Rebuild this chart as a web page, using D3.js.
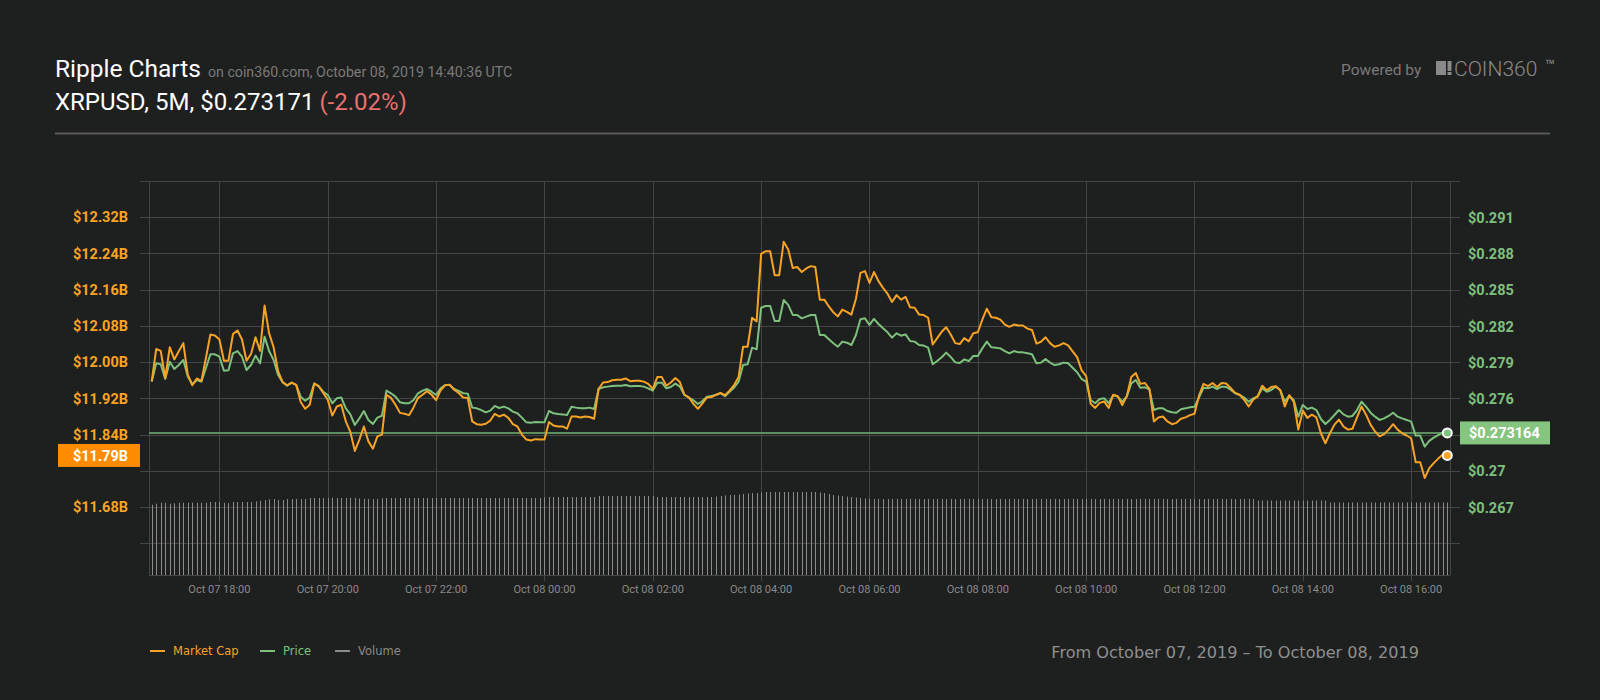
<!DOCTYPE html>
<html><head><meta charset="utf-8">
<script src="https://cdn.jsdelivr.net/npm/d3@7"></script>
<style>
html,body{margin:0;padding:0;background:#1e1f1f;}
svg{display:block;}
</style></head><body>
<svg id="chart" width="1600" height="700"></svg>
<script>
// ---------- DATA ----------
const startTime = "2019-10-07T16:45:00Z";   // first 5-minute bar (chart local time)
const stepMinutes = 5;

// Market cap, billions USD
const marketCap = [
11.958,12.029,12.025,11.965,12.033,12.006,12.024,12.042,11.972,11.949,
11.964,11.958,12.009,12.061,12.059,12.050,12.003,12.003,12.062,12.070,
12.050,12.003,12.018,12.055,12.025,12.125,12.064,12.033,11.980,11.956,
11.949,11.955,11.950,11.912,11.897,11.906,11.953,11.947,11.932,11.917,
11.882,11.902,11.906,11.869,11.846,11.804,11.829,11.858,11.825,11.809,
11.836,11.840,11.928,11.921,11.906,11.888,11.886,11.883,11.900,11.921,
11.928,11.936,11.928,11.916,11.938,11.949,11.950,11.939,11.932,11.922,
11.921,11.869,11.863,11.862,11.864,11.871,11.886,11.880,11.884,11.877,
11.863,11.858,11.840,11.829,11.827,11.830,11.829,11.829,11.868,11.860,
11.858,11.858,11.853,11.880,11.880,11.878,11.880,11.879,11.875,11.941,
11.955,11.956,11.960,11.961,11.961,11.964,11.958,11.959,11.959,11.957,
11.952,11.941,11.967,11.967,11.948,11.955,11.965,11.956,11.928,11.922,
11.908,11.897,11.909,11.922,11.923,11.928,11.932,11.927,11.937,11.949,
11.967,12.034,12.034,12.098,12.090,12.239,12.245,12.245,12.192,12.192,
12.266,12.249,12.208,12.210,12.199,12.207,12.212,12.210,12.138,12.138,
12.123,12.110,12.101,12.116,12.111,12.105,12.140,12.197,12.201,12.175,
12.199,12.179,12.164,12.151,12.133,12.148,12.138,12.144,12.121,12.120,
12.105,12.104,12.098,12.039,12.053,12.067,12.077,12.061,12.042,12.040,
12.053,12.046,12.064,12.066,12.094,12.118,12.099,12.098,12.094,12.083,
12.078,12.083,12.081,12.081,12.074,12.071,12.041,12.045,12.055,12.042,
12.034,12.037,12.042,12.037,12.024,12.011,11.982,11.969,11.908,11.899,
11.910,11.913,11.899,11.928,11.925,11.905,11.925,11.967,11.976,11.952,
11.954,11.941,11.869,11.878,11.880,11.869,11.863,11.866,11.875,11.878,
11.883,11.886,11.926,11.952,11.947,11.954,11.945,11.954,11.953,11.943,
11.932,11.928,11.917,11.902,11.917,11.925,11.948,11.938,11.945,11.947,
11.938,11.902,11.927,11.912,11.851,11.893,11.877,11.884,11.878,11.843,
11.821,11.843,11.862,11.873,11.858,11.851,11.853,11.878,11.902,11.884,
11.862,11.847,11.836,11.841,11.851,11.863,11.851,11.843,11.838,11.832,
11.779,11.779,11.744,11.766,11.777,11.787,11.796,11.794];

// Price, USD
const price = [
0.27741,0.27893,0.27885,0.27763,0.27907,0.27846,0.27879,0.27921,0.27783,0.27719,
0.27755,0.27741,0.27852,0.27968,0.27968,0.27948,0.27832,0.27835,0.27976,0.27995,
0.27948,0.27838,0.27879,0.27957,0.27893,0.28114,0.27995,0.27921,0.27796,0.27736,
0.27708,0.27733,0.27714,0.27617,0.27584,0.27609,0.27725,0.27703,0.27658,0.27631,
0.27562,0.27603,0.27609,0.27520,0.27470,0.27382,0.27437,0.27498,0.27424,0.27390,
0.27443,0.27459,0.27667,0.27645,0.27617,0.27570,0.27562,0.27562,0.27589,0.27645,
0.27667,0.27680,0.27658,0.27631,0.27686,0.27714,0.27714,0.27680,0.27664,0.27645,
0.27642,0.27526,0.27520,0.27506,0.27487,0.27501,0.27540,0.27523,0.27534,0.27520,
0.27493,0.27479,0.27443,0.27404,0.27401,0.27407,0.27404,0.27404,0.27498,0.27479,
0.27473,0.27470,0.27465,0.27534,0.27526,0.27520,0.27520,0.27526,0.27515,0.27680,
0.27694,0.27700,0.27705,0.27708,0.27708,0.27714,0.27703,0.27705,0.27705,0.27700,
0.27686,0.27667,0.27733,0.27733,0.27686,0.27697,0.27725,0.27700,0.27631,0.27609,
0.27587,0.27556,0.27581,0.27617,0.27622,0.27631,0.27645,0.27620,0.27658,0.27691,
0.27741,0.27879,0.27885,0.28023,0.28009,0.28354,0.28368,0.28368,0.28244,0.28244,
0.28418,0.28377,0.28294,0.28294,0.28266,0.28280,0.28294,0.28294,0.28128,0.28128,
0.28092,0.28059,0.28031,0.28073,0.28064,0.28045,0.28128,0.28258,0.28266,0.28211,
0.28261,0.28219,0.28183,0.28150,0.28106,0.28142,0.28122,0.28133,0.28078,0.28073,
0.28045,0.28040,0.28023,0.27885,0.27912,0.27943,0.27982,0.27946,0.27901,0.27896,
0.27926,0.27912,0.27954,0.27954,0.28017,0.28073,0.28026,0.28023,0.28017,0.27995,
0.27976,0.27995,0.27984,0.27984,0.27976,0.27968,0.27893,0.27899,0.27929,0.27899,
0.27879,0.27885,0.27899,0.27893,0.27857,0.27819,0.27763,0.27741,0.27589,0.27562,
0.27598,0.27603,0.27562,0.27631,0.27617,0.27575,0.27617,0.27727,0.27755,0.27691,
0.27694,0.27678,0.27506,0.27520,0.27520,0.27498,0.27487,0.27484,0.27512,0.27520,
0.27529,0.27534,0.27609,0.27691,0.27686,0.27700,0.27680,0.27700,0.27697,0.27675,
0.27645,0.27631,0.27609,0.27575,0.27603,0.27617,0.27686,0.27658,0.27672,0.27700,
0.27672,0.27575,0.27625,0.27587,0.27451,0.27548,0.27515,0.27526,0.27506,0.27432,
0.27390,0.27424,0.27465,0.27506,0.27470,0.27451,0.27457,0.27506,0.27575,0.27534,
0.27484,0.27451,0.27424,0.27437,0.27457,0.27484,0.27451,0.27437,0.27424,0.27410,
0.27294,0.27294,0.27203,0.27250,0.27277,0.27299,0.27321,0.273164];

// Volume (relative units, no axis shown)
const volume = [
703,713,723,723,713,717,723,723,723,723,
723,723,723,730,730,730,723,720,730,730,
730,730,730,737,743,750,757,760,750,750,
760,760,760,760,760,770,770,770,770,770,
773,770,770,770,772,770,765,762,760,760,
760,767,770,770,770,770,770,770,770,770,
770,770,770,770,770,770,770,770,770,770,
770,770,770,770,770,770,770,770,770,770,
770,770,770,770,770,770,770,777,780,780,
780,780,780,780,780,780,780,780,780,790,
790,790,790,790,790,790,790,790,790,790,
790,790,780,780,780,780,780,780,780,780,
780,780,780,780,780,785,790,795,800,800,
805,810,815,820,820,825,830,830,830,830,
830,830,830,830,830,830,830,830,825,820,
810,800,795,790,785,780,775,770,765,760,
760,760,760,760,760,760,760,760,760,760,
760,760,760,760,760,760,760,760,760,760,
760,760,760,760,760,760,760,760,760,760,
760,760,760,760,760,760,760,760,760,760,
760,760,760,760,760,760,760,760,760,760,
760,760,760,760,760,760,760,760,760,760,
760,760,760,760,760,760,760,760,760,760,
760,760,760,760,760,760,760,760,760,760,
760,760,760,760,760,745,745,745,745,745,
745,745,745,745,745,745,745,745,745,745,
745,725,725,725,725,725,725,725,725,725,
725,725,725,725,725,725,725,725,725,725,
725,725,725,725,725,725,725,725];

const capGrid   = [11.60,11.68,11.76,11.84,11.92,12.00,12.08,12.16,12.24,12.32,12.40];
const capTicks  = [11.68,11.76,11.84,11.92,12.00,12.08,12.16,12.24,12.32];
const priceTicks= [0.267,0.270,0.273,0.276,0.279,0.282,0.285,0.288,0.291];
const timeTicks = ["2019-10-07T18:00:00Z","2019-10-07T20:00:00Z","2019-10-07T22:00:00Z",
  "2019-10-08T00:00:00Z","2019-10-08T02:00:00Z","2019-10-08T04:00:00Z","2019-10-08T06:00:00Z",
  "2019-10-08T08:00:00Z","2019-10-08T10:00:00Z","2019-10-08T12:00:00Z","2019-10-08T14:00:00Z",
  "2019-10-08T16:00:00Z"];
const lastPrice = 0.273164;
const lastCapLabel = "$11.79B";
const headerTitle = "Ripple Charts";
const headerSub = "on coin360.com, October 08, 2019 14:40:36 UTC";
const headerPair = "XRPUSD, 5M, $0.273171";
const headerChange = "(-2.02%)";
const rangeText = "From October 07, 2019 \u2013 To October 08, 2019";
const legendItems = ["Market Cap","Price","Volume"];

// ---------- STYLE ----------
const C = {bg:"#1e1f1f", grid:"#454545", cap:"#f7a325", price:"#7dc17d", vol:"#8b8b8b",
  capBox:"#ff8c00", priceBox:"#86c580", nowLine:"#5e8f5e", axisText:"#8a8a8a"};
const P = {left:149, right:1450, top:181, bottom:575};

const svg = d3.select("#chart");
svg.append("rect").attr("width",1600).attr("height",700).attr("fill",C.bg);

const t0 = new Date(startTime).getTime();
const times = marketCap.map((d,i)=> new Date(t0 + i*stepMinutes*60000));

const x = d3.scaleUtc()
  .domain([new Date("2019-10-07T16:42:00Z"), new Date("2019-10-08T16:43:00Z")])
  .range([P.left, P.right]);
const yCap = d3.scaleLinear().domain([11.53, 12.40]).range([P.bottom, P.top]);
const yPrice = d3.scaleLinear().domain([0.26139, 0.29404]).range([P.bottom, P.top]);
const yVol = d3.scaleLinear().domain([0, 1000]).range([P.bottom, P.bottom - 100]);

// ---------- HEADER ----------
const hdr = svg.append("g");
const tTitle = hdr.append("text").attr("x",55).attr("y",77)
  .attr("font-family","Roboto").attr("font-size",24.5).attr("fill","#ffffff").text(headerTitle);
const tw = tTitle.node().getComputedTextLength();
hdr.append("text").attr("x",55+tw+7).attr("y",77)
  .attr("font-family","Roboto").attr("font-size",14.2).attr("fill","#7a7a7a").text(headerSub);
const tPair = hdr.append("text").attr("x",55).attr("y",110)
  .attr("font-family","Roboto").attr("font-size",24).attr("fill","#ffffff").text(headerPair);
const pw = tPair.node().getComputedTextLength();
hdr.append("text").attr("x",55+pw+5).attr("y",110)
  .attr("font-family","Roboto").attr("font-size",24).attr("fill","#e8716f").text(headerChange);
hdr.append("line").attr("x1",55).attr("x2",1550).attr("y1",133.5).attr("y2",133.5)
  .attr("stroke","#595959").attr("stroke-width",2);

hdr.append("text").attr("x",1341).attr("y",75)
  .attr("font-family","Roboto").attr("font-size",15.5).attr("fill","#7a7a7a").text("Powered by");
hdr.append("rect").attr("x",1436).attr("y",61).attr("width",10).attr("height",14).attr("fill","#8a8a8a");
hdr.append("rect").attr("x",1447.5).attr("y",61).attr("width",4).attr("height",10).attr("fill","#8a8a8a");
hdr.append("rect").attr("x",1447.5).attr("y",72).attr("width",4).attr("height",3).attr("fill","#8a8a8a");
hdr.append("text").attr("x",1454).attr("y",75.5)
  .attr("font-family","Roboto").attr("font-weight",300).attr("font-size",21).attr("fill","#8a8a8a").text("COIN360");
hdr.append("text").attr("x",1545).attr("y",71)
  .attr("font-family","Roboto").attr("font-size",16).attr("fill","#8a8a8a").text("\u2122");

// ---------- GRID ----------
const g = svg.append("g");
g.selectAll("line.hg").data(capGrid).join("line")
  .attr("x1",140).attr("x2",1460)
  .attr("y1",d=>Math.round(yCap(d))+0.5).attr("y2",d=>Math.round(yCap(d))+0.5)
  .attr("stroke",C.grid).attr("stroke-width",1);
g.selectAll("line.vg").data(timeTicks).join("line")
  .attr("x1",d=>Math.round(x(new Date(d)))+0.5).attr("x2",d=>Math.round(x(new Date(d)))+0.5)
  .attr("y1",P.top).attr("y2",P.bottom+6)
  .attr("stroke",C.grid).attr("stroke-width",1);
[P.left,P.right].forEach(px=>{
  g.append("line").attr("x1",px+0.5).attr("x2",px+0.5).attr("y1",P.top).attr("y2",P.bottom)
    .attr("stroke",C.grid).attr("stroke-width",1);
});
g.append("line").attr("x1",P.left).attr("x2",P.right).attr("y1",P.bottom+0.5).attr("y2",P.bottom+0.5)
  .attr("stroke",C.grid).attr("stroke-width",1);

// x labels
g.selectAll("text.xl").data(timeTicks).join("text")
  .attr("x",d=>x(new Date(d))).attr("y",593)
  .attr("text-anchor","middle").attr("font-family","Roboto").attr("font-size",11)
  .attr("fill",C.axisText).text(d=>d3.utcFormat("%b %d %H:%M")(new Date(d)));

// ---------- VOLUME ----------
svg.append("g").selectAll("line").data(volume).join("line")
  .attr("x1",(d,i)=>Math.round(x(times[i]))+0.5).attr("x2",(d,i)=>Math.round(x(times[i]))+0.5)
  .attr("y1",P.bottom).attr("y2",d=>yVol(d))
  .attr("stroke",C.vol).attr("stroke-width",1);

// ---------- CURRENT PRICE LINE ----------
svg.append("line").attr("x1",P.left).attr("x2",P.right)
  .attr("y1",yPrice(lastPrice)).attr("y2",yPrice(lastPrice))
  .attr("stroke",C.nowLine).attr("stroke-width",2);

// ---------- LINES ----------
const linePrice = d3.line().x((d,i)=>x(times[i])).y(d=>yPrice(d));
const lineCap = d3.line().x((d,i)=>x(times[i])).y(d=>yCap(d));
svg.append("path").datum(price).attr("d",linePrice).attr("fill","none")
  .attr("stroke",C.price).attr("stroke-width",2).attr("stroke-linejoin","round");
svg.append("path").datum(marketCap).attr("d",lineCap).attr("fill","none")
  .attr("stroke",C.cap).attr("stroke-width",2).attr("stroke-linejoin","round");

const li = marketCap.length-1;
svg.append("circle").attr("cx",x(times[li])).attr("cy",yPrice(price[li])).attr("r",4.5)
  .attr("fill",C.price).attr("stroke","#ffffff").attr("stroke-width",2);
svg.append("circle").attr("cx",x(times[li])).attr("cy",yCap(marketCap[li])).attr("r",4.5)
  .attr("fill",C.cap).attr("stroke","#ffffff").attr("stroke-width",2);

// ---------- Y LABELS ----------
const capBoxY = yCap(marketCap[li]);
const priceBoxY = yPrice(lastPrice);
svg.append("g").selectAll("text").data(capTicks.filter(v=>Math.abs(yCap(v)-capBoxY)>16)).join("text")
  .attr("x",128).attr("y",d=>yCap(d)).attr("dy","0.36em").attr("text-anchor","end")
  .attr("font-family","Roboto").attr("font-weight",700).attr("font-size",14.5)
  .attr("fill",C.cap).text(d=>"$"+d.toFixed(2)+"B");
svg.append("g").selectAll("text").data(priceTicks.filter(v=>Math.abs(yPrice(v)-priceBoxY)>16)).join("text")
  .attr("x",1468).attr("y",d=>yPrice(d)).attr("dy","0.36em")
  .attr("font-family","Roboto").attr("font-weight",700).attr("font-size",14.5)
  .attr("fill",C.price).text(d=>"$"+(+d.toFixed(3)));

svg.append("rect").attr("x",58).attr("y",capBoxY-11.5).attr("width",82).attr("height",23).attr("fill",C.capBox);
svg.append("text").attr("x",128).attr("y",capBoxY).attr("dy","0.36em").attr("text-anchor","end")
  .attr("font-family","Roboto").attr("font-weight",700).attr("font-size",14.5).attr("fill","#ffffff").text(lastCapLabel);
svg.append("rect").attr("x",1460).attr("y",priceBoxY-11.5).attr("width",90).attr("height",23).attr("fill",C.priceBox);
svg.append("text").attr("x",1469).attr("y",priceBoxY).attr("dy","0.36em")
  .attr("font-family","Roboto").attr("font-weight",700).attr("font-size",14.5).attr("fill","#ffffff").text("$"+lastPrice);

// ---------- LEGEND ----------
const legColors = [C.cap, C.price, C.vol];
const legX = [150, 260, 335];
legendItems.forEach((name,k)=>{
  svg.append("line").attr("x1",legX[k]).attr("x2",legX[k]+15).attr("y1",651).attr("y2",651)
    .attr("stroke",legColors[k]).attr("stroke-width",2);
  svg.append("text").attr("x",legX[k]+23).attr("y",655)
    .attr("font-family","DejaVu Sans").attr("font-size",11.5).attr("fill",legColors[k]).text(name);
});

const rt = svg.append("text").attr("x",1419).attr("y",658).attr("text-anchor","end")
  .attr("font-family","DejaVu Sans").attr("font-size",15).attr("fill","#8f8f8f").text(rangeText);
const rl = rt.node().getComputedTextLength();
rt.attr("font-size", 15*368/rl);
</script>
</body></html>
